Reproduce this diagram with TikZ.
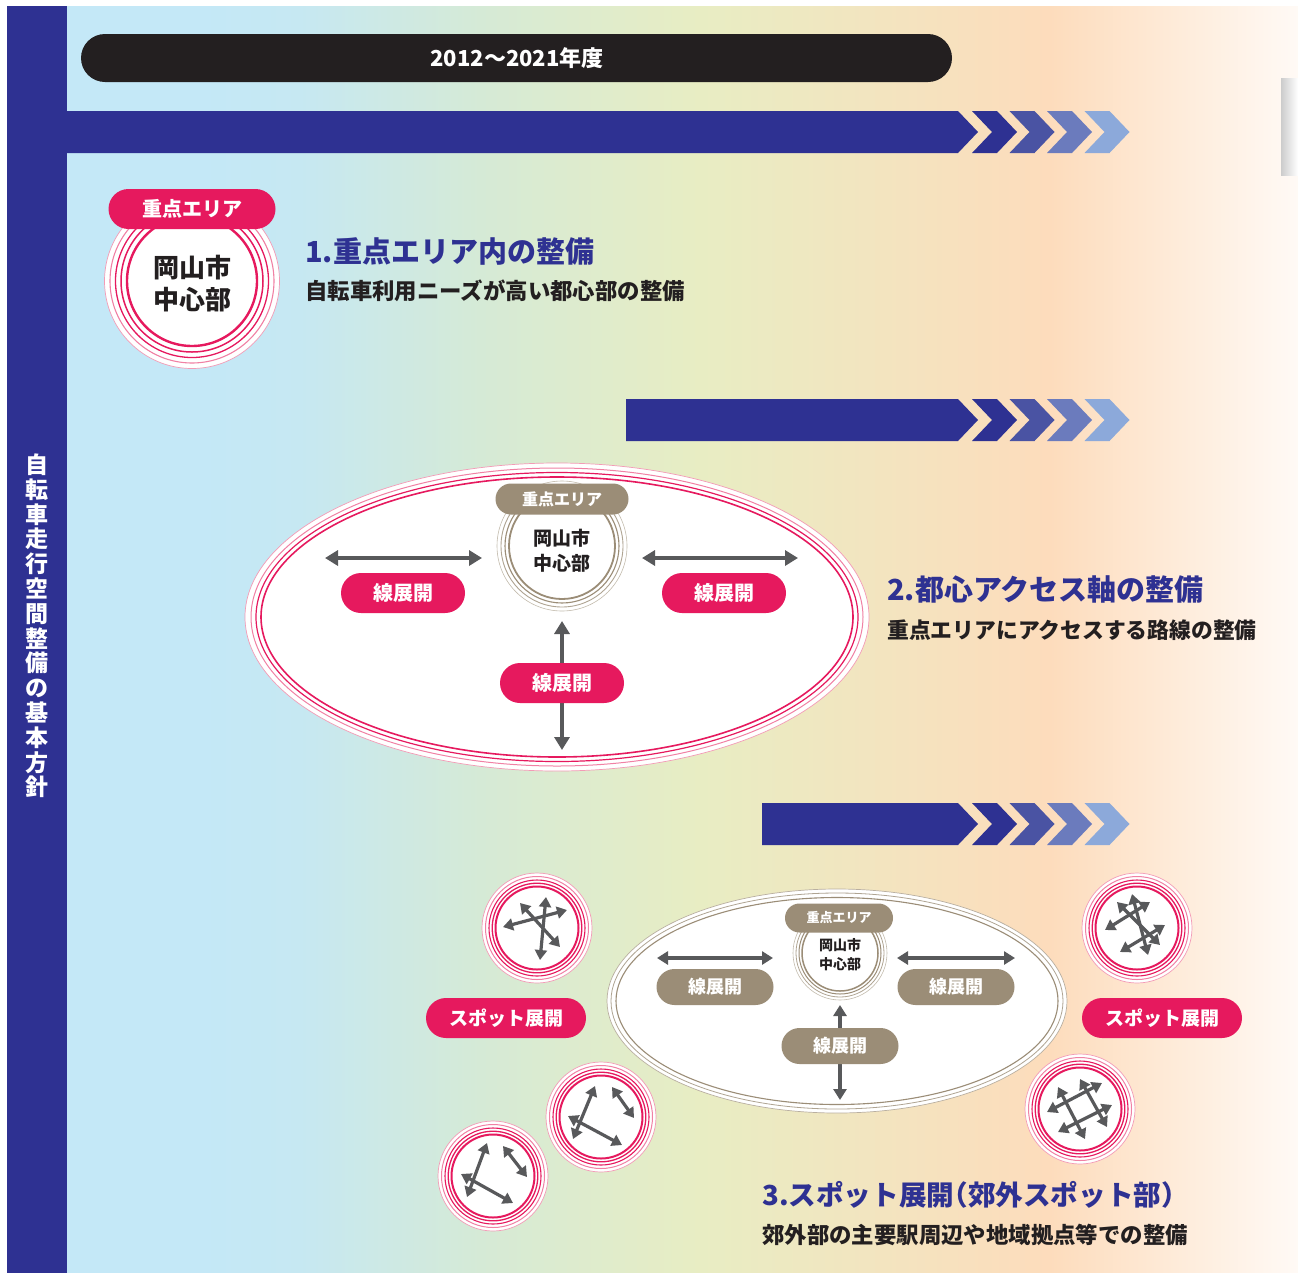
\documentclass[tikz,border=0pt]{standalone}
\usepackage{fontspec}
\setmainfont{Noto Sans CJK JP}
\usetikzlibrary{arrows.meta}
\definecolor{navy}{HTML}{2E3192}
\definecolor{chA}{HTML}{2E3192}
\definecolor{chB}{HTML}{4A53A3}
\definecolor{chC}{HTML}{6B7BBD}
\definecolor{chD}{HTML}{8CA9DA}
\definecolor{crim}{HTML}{E6195E}
\definecolor{fpink}{HTML}{F39BB6}
\definecolor{brn}{HTML}{9B8D77}
\definecolor{agrey}{HTML}{58595B}
\definecolor{tdark}{HTML}{231F20}
\definecolor{bg1}{HTML}{C4E8F7}
\definecolor{bg2}{HTML}{C6E8F2}
\definecolor{bg3}{HTML}{D5EAD6}
\definecolor{bg4}{HTML}{E8EDC3}
\definecolor{bg5}{HTML}{FDDCBC}
\definecolor{bg6}{HTML}{FFFAF6}
\tikzset{
  pill/.style={fill=#1, text=white, font=\bfseries, inner sep=0pt},
  bigarrow/.style={draw=agrey, line width=4pt, {Triangle[length=13pt,width=15pt]}-{Triangle[length=13pt,width=15pt]}},
  smallarrow/.style={draw=agrey, line width=3.4pt, {Triangle[length=11pt,width=13pt]}-{Triangle[length=11pt,width=13pt]}},
  sparrow/.style={draw=agrey, line width=3.2pt, {Triangle[length=10pt,width=12pt]}-{Triangle[length=10pt,width=12pt]}},
  heading/.style={anchor=west, inner sep=0pt, text=navy, font=\fontsize{29}{29}\selectfont\bfseries},
  subhead/.style={anchor=west, inner sep=0pt, text=tdark, font=\fontsize{22.4}{23}\selectfont\bfseries},
}
\newcommand\chevbar[2]{%
  \fill[navy] (#1,#2) -- (958,#2) -- (978,#2+21) -- (958,#2+42) -- (#1,#2+42) -- cycle;
  \foreach \i/\c in {0/chA,1/chB,2/chC,3/chD}{%
    \pgfmathsetmacro\L{972+37.5*\i}
    \fill[\c] (\L,#2) -- (\L+25,#2) -- (\L+45,#2+21) -- (\L+25,#2+42) -- (\L,#2+42) -- (\L+20,#2+21) -- cycle;}
}
\newcommand\spotcircle[2]{% name, center
  \fill[white] (#2) circle (55);
  \draw[fpink, line width=0.7pt] (#2) circle (55);
  \draw[fpink!80!crim, line width=1pt] (#2) circle (51.5);
  \draw[crim, line width=1.1pt] (#2) circle (48);
  \draw[crim, line width=1.3pt] (#2) circle (44.8);
  \draw[crim, line width=2pt] (#2) circle (41.5);
  \coordinate (#1) at (#2);
}
\newcommand\sparr[3]{% name, start, end
  \coordinate (#1a) at (#2); \coordinate (#1b) at (#3);
  \draw[sparrow] (#1a) -- (#1b);
}
\begin{document}
\begin{tikzpicture}[x=1pt,y=-1pt]
\useasboundingbox (0,0) rectangle (1298,1272);
\fill[white] (0,0) rectangle (1298,1272);
% background gradient
\shade[left color=bg2, right color=bg3] (299.5,6) rectangle (480,1280);
\shade[left color=bg3, right color=bg4] (479.5,6) rectangle (700,1280);
\shade[left color=bg4, right color=bg5] (699.5,6) rectangle (1050,1280);
\shade[left color=bg5, right color=bg6] (1049.5,6) rectangle (1300,1280);
\fill[bg1] (67,6) rectangle (200.5,1280);
\shade[left color=bg1, right color=bg2] (200,6) rectangle (300.5,1280);
\shade[left color=black!20, right color=white] (1281,78) rectangle (1298,175);
% left bar
\fill[navy] (7,6) rectangle (67,1280);
\node[text=white, font=\fontsize{23}{24.8}\selectfont\bfseries, align=center, inner sep=0pt] (vtitle) at (37,626)
  {自\\転\\車\\走\\行\\空\\間\\整\\備\\の\\基\\本\\方\\針};
% title bar
\fill[tdark, rounded corners=24pt] (81,34) rectangle (952,82);
\node[text=white, font=\fontsize{22}{22}\selectfont\bfseries] (period) at (517,58) {2012〜2021年度};
% arrow bars
\chevbar{67}{111}
\chevbar{626}{399}
\chevbar{762}{803}

% ===== Section 1 =====
\fill[white] (192,281) circle (87.5);
\draw[fpink, line width=0.7pt] (192,281) circle (87.5);
\draw[fpink!80!crim, line width=1.1pt] (192,281) circle (82);
\draw[crim, line width=1.3pt] (192,281) circle (76.5);
\draw[crim, line width=1.5pt] (192,281) circle (71);
\draw[crim, line width=2.4pt] (192,281) circle (65);
\node[text=tdark, font=\fontsize{26}{32}\selectfont\bfseries, align=center] (hub1) at (192,284) {岡山市\\中心部};
\node[pill=crim, rounded corners=20pt, minimum width=167pt, minimum height=40pt, font=\fontsize{20}{20}\selectfont\bfseries] (area1) at (192,209) {重点エリア};
\node[heading] (h1) at (305,252) {1.重点エリア内の整備};
\node[subhead] (s1) at (305,291) {自転車利用ニーズが高い都心部の整備};

% ===== Section 2 =====
\fill[white] (557,617) ellipse [x radius=312, y radius=154];
\draw[fpink, line width=0.7pt] (557,617) ellipse [x radius=312, y radius=154];
\draw[fpink!80!crim, line width=1pt] (557,617) ellipse [x radius=306, y radius=149];
\draw[crim, line width=1.2pt] (557,617) ellipse [x radius=301, y radius=144.5];
\draw[crim, line width=1.6pt] (557,617) ellipse [x radius=296, y radius=140];
\draw[brn!60, line width=0.6pt] (562,546) circle (65);
\draw[brn!80, line width=0.9pt] (562,546) circle (61);
\draw[brn, line width=1.1pt] (562,546) circle (57);
\draw[brn, line width=1.8pt] (562,546) circle (53);
\node[text=tdark, font=\fontsize{19}{25}\selectfont\bfseries, align=center] (hub2) at (562,551) {岡山市\\中心部};
\node[pill=brn, rounded corners=15.5pt, minimum width=133pt, minimum height=31pt, font=\fontsize{16}{16}\selectfont\bfseries] (area2) at (562,499) {重点エリア};
\coordinate (m2l) at (325,558); \coordinate (m2li) at (482,558);
\coordinate (m2r) at (798,558); \coordinate (m2ri) at (642,558);
\coordinate (m2d) at (562,750); \coordinate (m2di) at (562,621);
\draw[bigarrow] (m2l) -- (m2li);
\draw[bigarrow] (m2ri) -- (m2r);
\draw[bigarrow] (m2di) -- (m2d);
\node[pill=crim, rounded corners=20pt, minimum width=124pt, minimum height=40pt, font=\fontsize{20}{20}\selectfont\bfseries] (l2a) at (403,593) {線展開};
\node[pill=crim, rounded corners=20pt, minimum width=124pt, minimum height=40pt, font=\fontsize{20}{20}\selectfont\bfseries] (l2b) at (724,593) {線展開};
\node[pill=crim, rounded corners=20pt, minimum width=124pt, minimum height=40pt, font=\fontsize{20}{20}\selectfont\bfseries] (l2c) at (562,683) {線展開};
\node[heading] (h2) at (887,590) {2.都心アクセス軸の整備};
\node[subhead, font=\fontsize{21.8}{23}\selectfont\bfseries] (s2) at (887,630) {重点エリアにアクセスする路線の整備};

% ===== Section 3 =====
\fill[white] (837,1001) ellipse [x radius=230, y radius=112];
\draw[brn!70, line width=0.7pt] (837,1001) ellipse [x radius=230, y radius=112];
\draw[brn!80, line width=0.8pt] (837,1001) ellipse [x radius=226, y radius=108];
\draw[brn, line width=1.1pt] (837,1001) ellipse [x radius=221, y radius=103.5];
\draw[brn!60, line width=0.6pt] (840,953) circle (47);
\draw[brn!80, line width=0.8pt] (840,953) circle (44);
\draw[brn, line width=1pt] (840,953) circle (41);
\draw[brn, line width=1.5pt] (840,953) circle (38);
\node[text=tdark, font=\fontsize{14}{19}\selectfont\bfseries, align=center] (hub3) at (840,955) {岡山市\\中心部};
\node[pill=brn, rounded corners=14.5pt, minimum width=108pt, minimum height=29pt, font=\fontsize{13}{13}\selectfont\bfseries] (area3) at (839,918) {重点エリア};
\coordinate (m3l) at (657,958); \coordinate (m3li) at (773,958);
\coordinate (m3r) at (1015,958); \coordinate (m3ri) at (897,958);
\coordinate (m3d) at (840,1100); \coordinate (m3di) at (840,1005);
\draw[smallarrow] (m3l) -- (m3li);
\draw[smallarrow] (m3ri) -- (m3r);
\draw[smallarrow] (m3di) -- (m3d);
\node[pill=brn, rounded corners=18pt, minimum width=117pt, minimum height=36pt, font=\fontsize{18}{18}\selectfont\bfseries] (l3a) at (715,987) {線展開};
\node[pill=brn, rounded corners=18pt, minimum width=117pt, minimum height=36pt, font=\fontsize{18}{18}\selectfont\bfseries] (l3b) at (956,987) {線展開};
\node[pill=brn, rounded corners=18pt, minimum width=117pt, minimum height=36pt, font=\fontsize{18}{18}\selectfont\bfseries] (l3c) at (840,1046) {線展開};

% spot circles
\spotcircle{sp1}{537,928}
\sparr{sp1x}{503,927}{567,910}
\sparr{sp1y}{520,903}{560,947}
\sparr{sp1z}{546,897}{540,960}
\spotcircle{sp2}{1137,928}
\sparr{sp2w}{1105,930}{1150,902}
\sparr{sp2x}{1120,952}{1165,925}
\sparr{sp2y}{1117,902}{1160,945}
\sparr{sp2z}{1132,894}{1148,955}
\spotcircle{sp3}{601,1117}
\sparr{sp3x}{595,1086}{573,1139}
\sparr{sp3y}{568,1116}{622,1145}
\sparr{sp3z}{612,1087}{634,1118}
\spotcircle{sp4}{493,1176}
\sparr{sp4x}{487,1143}{467,1197}
\sparr{sp4y}{461,1174}{513,1203}
\sparr{sp4z}{503,1146}{527,1177}
\spotcircle{sp5}{1080,1109}
\sparr{sp5w}{1058,1087}{1085,1139}
\sparr{sp5x}{1080,1079}{1107,1127}
\sparr{sp5y}{1047,1112}{1102,1083}
\sparr{sp5z}{1058,1132}{1112,1105}
\node[pill=crim, rounded corners=20pt, minimum width=160pt, minimum height=40pt, font=\fontsize{19}{19}\selectfont\bfseries] (spl) at (506,1018) {スポット展開};
\node[pill=crim, rounded corners=20pt, minimum width=160pt, minimum height=40pt, font=\fontsize{19}{19}\selectfont\bfseries] (spr) at (1162,1018) {スポット展開};
\node[heading, font=\fontsize{27.6}{28}\selectfont\bfseries] (h3) at (762,1195) {3.スポット展開\makebox[0.5em][r]{（}郊外スポット部\makebox[0.5em][l]{）}};
\node[subhead] (s3) at (762,1235) {郊外部の主要駅周辺や地域拠点等での整備};
\end{tikzpicture}
\end{document}
